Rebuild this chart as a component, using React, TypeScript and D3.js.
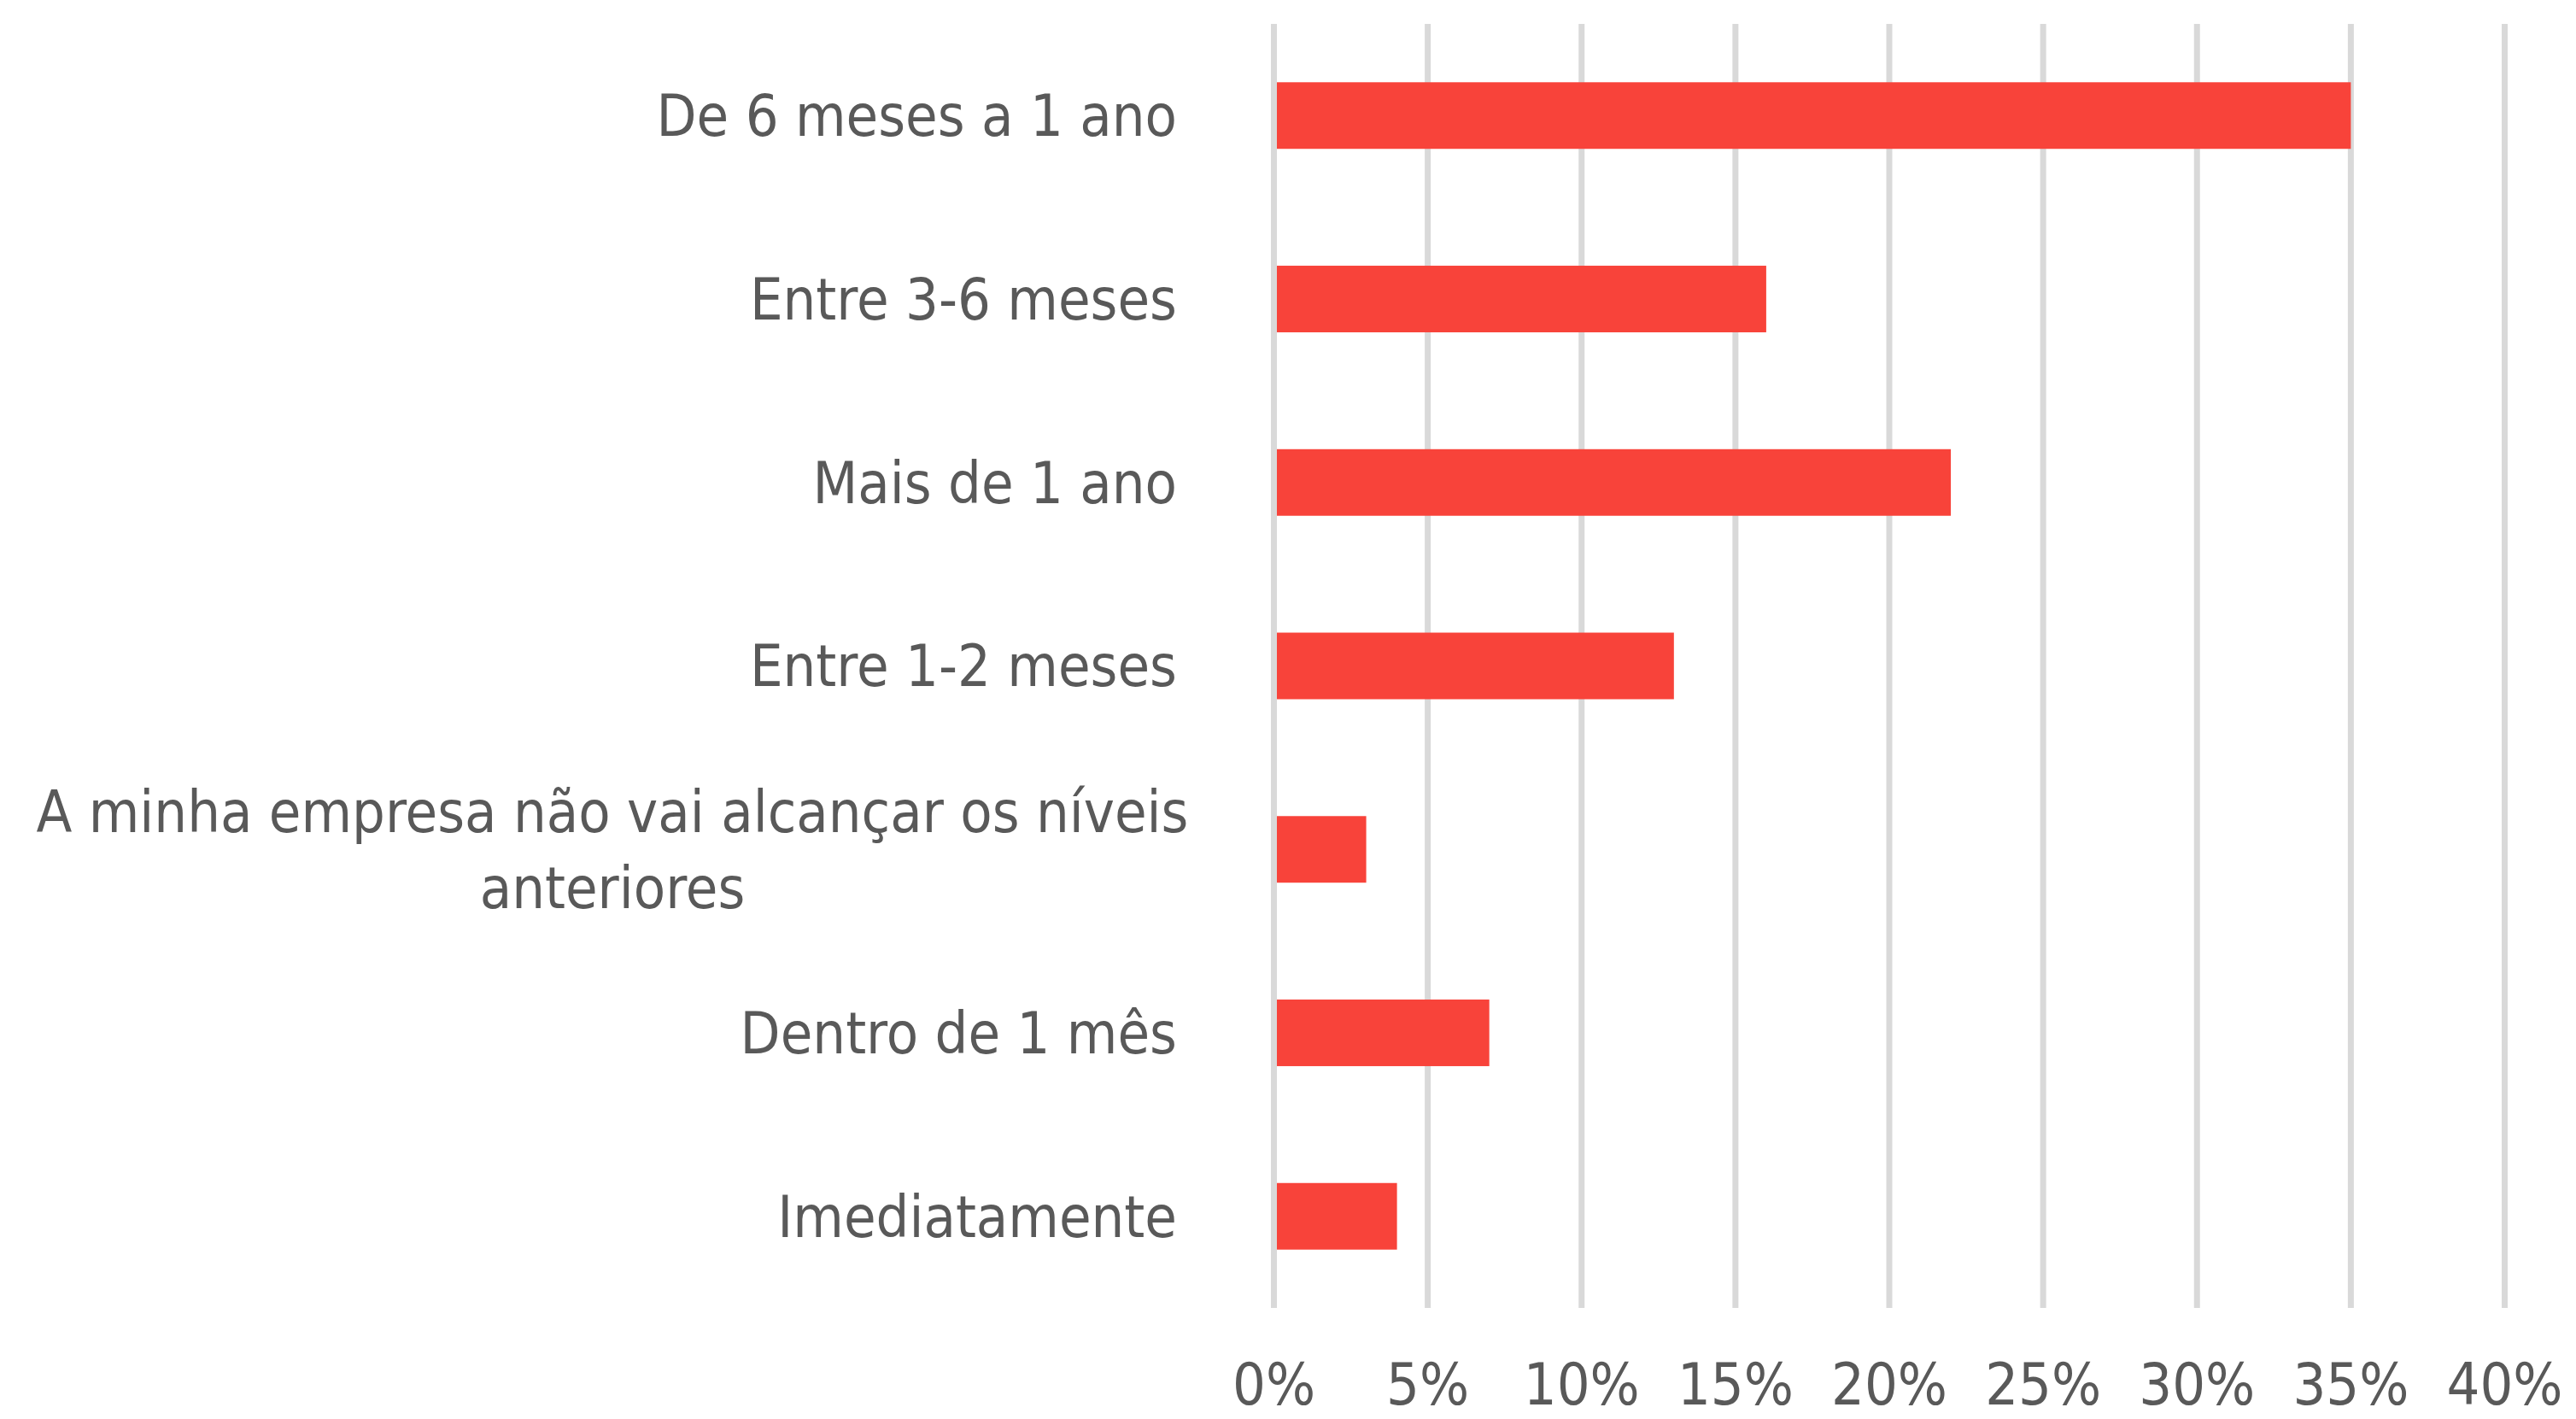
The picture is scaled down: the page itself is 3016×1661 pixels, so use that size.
import React from "react";
import * as d3 from "d3";

// categories top to bottom, shares as fractions
const categories = [
    "De 6 meses a 1 ano",
    "Entre 3-6 meses",
    "Mais de 1 ano",
    "Entre 1-2 meses",
    "A minha empresa não vai alcançar os níveis anteriores",
    "Dentro de 1 mês",
    "Imediatamente",
];
const shares = [0.35, 0.16, 0.22, 0.13, 0.03, 0.07, 0.04];
const tickValues = [0, 0.05, 0.1, 0.15, 0.2, 0.25, 0.3, 0.35, 0.4];
// how the long label is split over two lines
const wrappedLabels: Record<string, string[]> = {
    "A minha empresa não vai alcançar os níveis anteriores": [
        "A minha empresa não vai alcançar os níveis",
        "anteriores",
    ],
};

const W = 3016;
const H = 1661;
const FONT = "'DejaVu Sans Condensed', 'Liberation Sans Narrow', 'Open Sans', sans-serif";
const TEXT = "#595959";
const BAR = "#F8433A";
const GRID = "#D9D9D9";

export default function App() {
    const x = d3.scaleLinear().domain([0, 0.4]).range([1491.5, 2932.5]);
    const y = d3.scaleBand<string>()
        .domain(categories)
        .range([28, 1531])
        .paddingInner(0.637)
        .paddingOuter(0.318);
    const fmt = d3.format(".0%");
    const labelRight = 1378;
    const wrapCenter = 717;
    const fontSize = 68;

    return (
        <svg width={W} height={H} style={{ position: "absolute", left: 0, top: 0 }}
            fontFamily={FONT}>
            <rect width={W} height={H} fill="#fff" />

            {/* vertical gridlines */}
            {tickValues.map(t => (
                <line key={t} x1={x(t)} x2={x(t)} y1={28} y2={1531}
                    stroke={GRID} strokeWidth={7} />
            ))}

            {/* bars */}
            {categories.map((c, i) => (
                <rect key={c} x={x(0) + 3.5} y={y(c)!}
                    width={x(shares[i]) - x(0) - 3.5} height={y.bandwidth()} fill={BAR} />
            ))}

            {/* category labels */}
            {categories.map(c => {
                const cy = y(c)! + y.bandwidth() / 2;
                const lines = wrappedLabels[c];
                if (lines) {
                    const lh = 89;
                    return lines.map((l, j) => (
                        <text key={c + j} x={wrapCenter} y={cy + (j - (lines.length - 1) / 2) * lh}
                            dy="0.35em" textAnchor="middle" fontSize={fontSize} fill={TEXT}>{l}</text>
                    ));
                }
                return (
                    <text key={c} x={labelRight} y={cy} dy="0.35em" textAnchor="end"
                        fontSize={fontSize} fill={TEXT}>{c}</text>
                );
            })}

            {/* x tick labels */}
            {tickValues.map(t => (
                <text key={"t" + t} x={x(t)} y={1644} textAnchor="middle"
                    fontSize={fontSize} fill={TEXT}>{fmt(t)}</text>
            ))}
        </svg>
    );
}
